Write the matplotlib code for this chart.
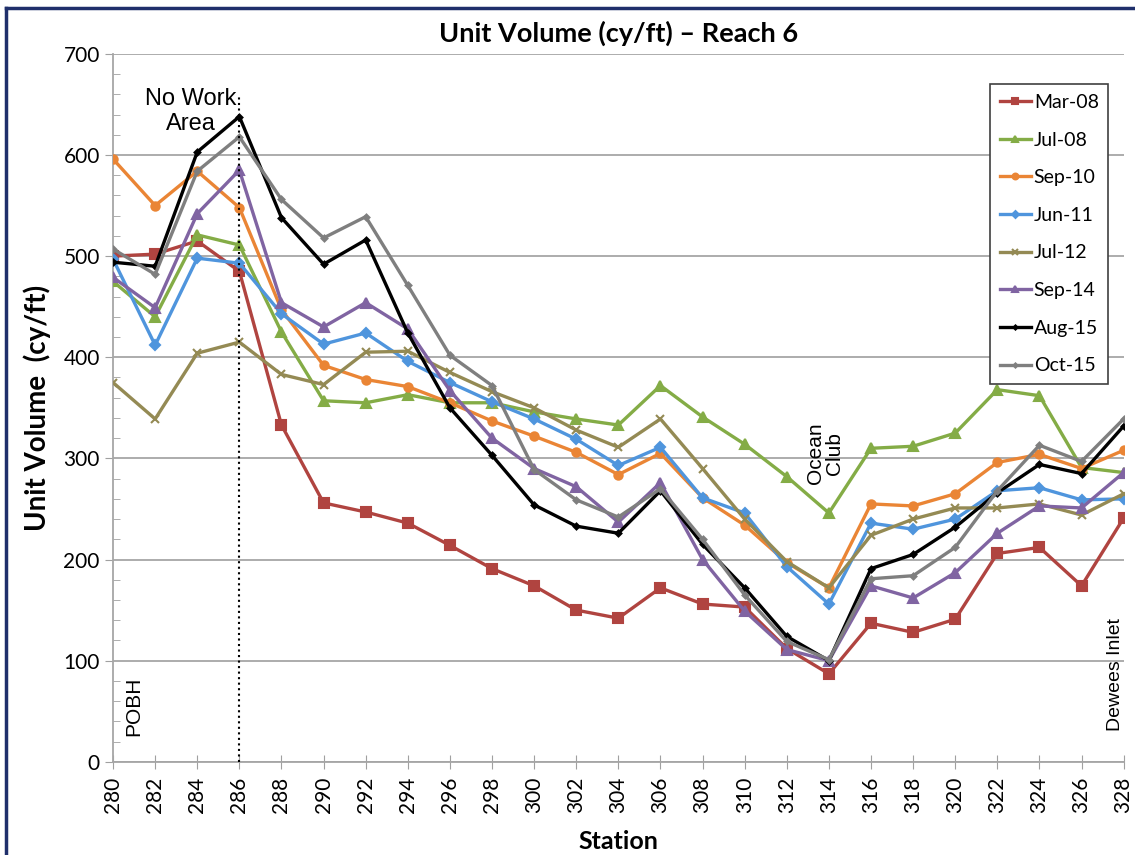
import matplotlib.pyplot as plt
from matplotlib.lines import Line2D

stations = list(range(280, 330, 2))

mar08 = [500, 502, 515, 485, 333, 256, 247, 236, 214, 191, 174, 150, 142, 172, 156, 153, 112, 87, 137, 128, 141, 206, 212, 174, 241]
jul08 = [475, 440, 521, 511, 425, 357, 355, 363, 355, 355, 346, 339, 333, 372, 341, 314, 282, 246, 310, 312, 325, 368, 362, 291, 286]
sep10 = [596, 550, 584, 548, 447, 392, 378, 371, 355, 337, 322, 306, 284, 305, 261, 234, 197, 172, 255, 253, 265, 296, 304, 290, 308]
jun11 = [497, 412, 498, 493, 443, 413, 424, 396, 375, 356, 339, 319, 293, 311, 261, 246, 193, 156, 236, 230, 240, 268, 271, 259, 260]
jul12 = [375, 339, 404, 415, 383, 373, 405, 406, 385, 366, 350, 328, 311, 339, 290, 240, 198, 172, 224, 240, 251, 251, 255, 244, 265]
sep14 = [479, 449, 542, 585, 454, 430, 454, 428, 367, 320, 290, 272, 237, 276, 200, 149, 111, 100, 174, 162, 187, 226, 253, 251, 286]
aug15 = [494, 490, 603, 638, 538, 492, 516, 424, 350, 303, 254, 233, 226, 268, 215, 172, 124, 100, 191, 205, 232, 266, 294, 285, 332]
oct15 = [507, 482, 584, 618, 556, 518, 539, 471, 402, 372, 289, 259, 242, 270, 220, 165, 119, 101, 181, 184, 212, 268, 313, 297, 339]

series = [
    ("Mar-08", mar08, "#b04440", "s", 7),
    ("Jul-08", jul08, "#84ac46", "^", 7),
    ("Sep-10", sep10, "#ea8535", "o", 6),
    ("Jun-11", jun11, "#4f95dd", "D", 5),
    ("Jul-12", jul12, "#948a54", "x", 6),
    ("Sep-14", sep14, "#8064a2", "^", 7),
    ("Aug-15", aug15, "#000000", "D", 3),
    ("Oct-15", oct15, "#7f7f7f", "D", 3),
]

plt.rcParams['font.family'] = ['Lato', 'DejaVu Sans']
narrow = ['Liberation Sans Narrow', 'Liberation Sans', 'DejaVu Sans']

fig = plt.figure(figsize=(11.35, 8.55), dpi=100)
ax = fig.add_axes([0.0996, 0.109, 0.8904, 0.828])

for name, vals, color, marker, ms in series:
    ax.plot(stations, vals, color=color, marker=marker, markersize=ms, linewidth=2.4,
            markeredgewidth=1.5, label=name, zorder=3)

ax.set_xlim(280, 328)
ax.set_ylim(0, 700)
ax.set_xticks(stations)
ax.set_xticklabels([str(s) for s in stations], rotation=90, fontsize=15)
ax.set_yticks(range(0, 701, 100))
ax.set_yticks(range(0, 701, 20), minor=True)
ax.tick_params(axis='y', labelsize=15, length=6, color='#a0a0a0')
ax.tick_params(axis='y', which='minor', length=5, direction='in', color='#a0a0a0')
ax.tick_params(axis='x', length=10, direction='inout', color='#a0a0a0', pad=6)
ax.grid(axis='y', color='#a6a6a6', linewidth=1.3)
for s in ['top', 'right']:
    ax.spines[s].set_visible(False)
for s in ['left', 'bottom']:
    ax.spines[s].set_color('#a6a6a6')
    ax.spines[s].set_linewidth(1.3)

ax.set_title("Unit Volume (cy/ft) – Reach 6", fontsize=19.5, fontweight='bold', pad=9)
ax.set_xlabel("Station", fontsize=18, fontweight='bold', labelpad=12)
ax.set_ylabel("Unit Volume  (cy/ft)", fontsize=20, fontweight='bold', labelpad=9)

ax.plot([286, 286], [0, 658], color='black', linestyle=':', linewidth=1.5, zorder=4)
ax.text(283.7, 643, "No Work\nArea", fontsize=17, ha='center', va='center', linespacing=1.15,
        zorder=5, family=narrow)
ax.text(281.0, 55, "POBH", fontsize=15, rotation=90, ha='center', va='center', family=narrow)
ax.text(313.8, 305, "Ocean\nClub", fontsize=15, rotation=90, ha='center', va='center',
        linespacing=1.0, family=narrow)
ax.text(327.6, 86, "Dewees Inlet", fontsize=14, rotation=90, ha='center', va='center',
        family=narrow, clip_on=False)

leg = ax.legend(loc='upper right', bbox_to_anchor=(0.985, 0.957), fontsize=14,
                frameon=True, fancybox=False, edgecolor='#404040', framealpha=1,
                labelspacing=1.06, handlelength=1.6, handletextpad=0.15, borderpad=0.5,
                borderaxespad=0, markerscale=0.7)
leg.get_frame().set_linewidth(1.2)

# slide frame in navy
fig.add_artist(Line2D([0.005, 0.005], [0, 0.991], transform=fig.transFigure, color='#1f2f6b', linewidth=2.5))
fig.add_artist(Line2D([0.005, 1.0], [0.991, 0.991], transform=fig.transFigure, color='#1f2f6b', linewidth=2.5))

fig.savefig("out.png", dpi=100)
